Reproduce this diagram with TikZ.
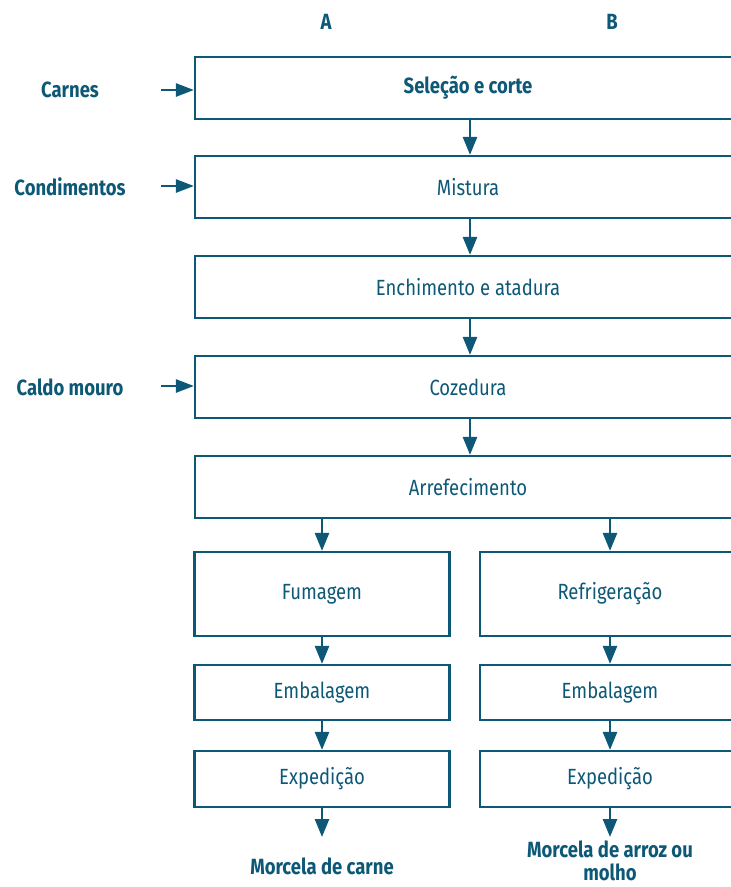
\documentclass[tikz,border=0pt]{standalone}
\usepackage{fontspec}
\setmainfont{Fira Sans}[FakeStretch=0.84]
\usetikzlibrary{arrows.meta}
\definecolor{tc}{RGB}{12,88,118}
\tikzset{
  box/.style={draw=tc, line width=2.2pt, text=tc, font=\fontsize{22}{25}\selectfont, inner sep=0pt, anchor=center},
  lbl/.style={text=tc, font=\fontsize{22}{25}\selectfont\bfseries, inner sep=0pt, align=center},
  arr/.style={draw=tc, line width=2.6pt, -{Triangle[length=18pt,width=14pt]}},
  sarr/.style={draw=tc, line width=2.6pt, -{Triangle[length=18pt,width=13pt]}},
}
\begin{document}
\begin{tikzpicture}[x=1pt,y=-1pt]
\useasboundingbox (0,0) rectangle (731,887);
\clip (0,0) rectangle (731,887);
% headers
\node[lbl] (ha) at (326,22) {A};
\node[lbl] (hb) at (612,22) {B};
% main boxes
\node[box, minimum width=546pt, minimum height=62pt, font=\fontsize{22}{25}\selectfont\bfseries] (b1) at (468,88) {Seleção e corte};
\node[box, minimum width=546pt, minimum height=62pt] (b2) at (468,187) {Mistura};
\node[box, minimum width=546pt, minimum height=62pt] (b3) at (468,287) {Enchimento e atadura};
\node[box, minimum width=546pt, minimum height=62pt] (b4) at (468,387) {Cozedura};
\node[box, minimum width=546pt, minimum height=62pt] (b5) at (468,487) {Arrefecimento};
% inputs
\node[lbl] (i1) at (70,90) {Carnes};
\node[lbl] (i2) at (70,187) {Condimentos};
\node[lbl] (i3) at (70,387) {Caldo mouro};
\coordinate (s1) at (161,90);
\coordinate (s2) at (161,186);
\coordinate (s3) at (161,386);
\draw[sarr] (s1) -- (s1 -| b1.west);
\draw[sarr] (s2) -- (s2 -| b2.west);
\draw[sarr] (s3) -- (s3 -| b4.west);
% main arrows
\draw[arr] ([xshift=2pt]b1.south) -- ([xshift=2pt]b2.north);
\draw[arr] ([xshift=2pt]b2.south) -- ([xshift=2pt]b3.north);
\draw[arr] ([xshift=2pt]b3.south) -- ([xshift=2pt]b4.north);
\draw[arr] ([xshift=2pt]b4.south) -- ([xshift=2pt]b5.north);
% column A
\node[box, minimum width=255pt, minimum height=84pt] (a1) at (322,594) {Fumagem};
\node[box, minimum width=255pt, minimum height=55pt] (a2) at (322,692.5) {Embalagem};
\node[box, minimum width=255pt, minimum height=56pt] (a3) at (322,779) {Expedição};
% column B
\node[box, minimum width=260pt, minimum height=84pt] (c1) at (610,594) {Refrigeração};
\node[box, minimum width=260pt, minimum height=55pt] (c2) at (610,692.5) {Embalagem};
\node[box, minimum width=260pt, minimum height=56pt] (c3) at (610,779) {Expedição};
% branch arrows
\draw[arr] (b5.south -| a1.north) -- (a1.north);
\draw[arr] (b5.south -| c1.north) -- (c1.north);
\draw[arr] (a1.south) -- (a2.north);
\draw[arr] (a2.south) -- (a3.north);
\draw[arr] (c1.south) -- (c2.north);
\draw[arr] (c2.south) -- (c3.north);
% outputs
\coordinate (ea) at (322,837);
\coordinate (ec) at (610,837);
\draw[arr] (a3.south) -- (ea);
\draw[arr] (c3.south) -- (ec);
\node[lbl] (oa) at (322,866) {Morcela de carne};
\node[lbl, font=\fontsize{22}{23}\selectfont\bfseries] (oc) at (610,861) {Morcela de arroz ou\\molho};
\end{tikzpicture}
\end{document}
